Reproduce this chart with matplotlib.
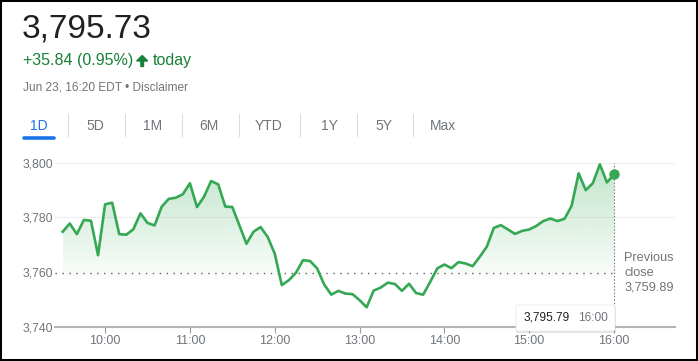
import matplotlib
matplotlib.use("Agg")
import matplotlib.pyplot as plt
import numpy as np
from matplotlib.lines import Line2D
from matplotlib.patches import FancyBboxPatch, Rectangle, FancyArrow
from matplotlib.transforms import IdentityTransform

# index level, 5 minute steps from 9:30 to 16:00
values = [
    3774.8, 3777.8, 3773.9, 3779.1, 3778.8, 3766.2, 3784.8, 3785.4, 3773.9, 3773.7,
    3775.7, 3781.5, 3778.0, 3777.1, 3783.9, 3786.8, 3787.2, 3788.5, 3792.5, 3783.8,
    3787.6, 3793.3, 3792.1, 3784.0, 3783.8, 3777.1, 3770.4, 3774.8, 3776.5, 3772.9,
    3766.8, 3755.3, 3757.1, 3759.8, 3764.4, 3764.1, 3761.4, 3755.5, 3751.8, 3753.2,
    3752.2, 3752.0, 3749.8, 3747.2, 3753.3, 3754.4, 3756.2, 3755.7, 3753.2, 3755.8,
    3752.4, 3751.8, 3756.5, 3761.4, 3762.8, 3761.5, 3763.7, 3763.2, 3762.2, 3765.6,
    3769.3, 3776.2, 3777.2, 3775.6, 3774.0, 3775.1, 3775.6, 3776.9, 3778.7, 3779.6,
    3778.7, 3779.5, 3784.2, 3796.1, 3790.0, 3792.5, 3799.4, 3792.8, 3795.7,
]
times = [9.5 + k * 5 / 60 for k in range(len(values))]

prev_close = 3759.89
last_price = "3,795.73"
change_text = "+35.84 (0.95%)"
date_text = "Jun 23, 16:20 EDT \u2022 Disclaimer"
tabs = ["1D", "5D", "1M", "6M", "YTD", "1Y", "5Y", "Max"]
tab_x = [39, 95.7, 152.7, 209.3, 268.3, 329, 384.3, 442.7]
sep_x = [67.7, 124.7, 181.7, 238.7, 299.7, 356.7, 413.3]
hour_ticks = [10, 11, 12, 13, 14, 15, 16]
hour_labels = ["10:00", "11:00", "12:00", "13:00", "14:00", "15:00", "16:00"]
y_ticks = [3740, 3760, 3780, 3800]
y_labels = ["3,740", "3,760", "3,780", "3,800"]

W, H = 698, 361
GREEN = "#34a853"
GRAY = "#70757a"
plt.rcParams["font.family"] = ["Liberation Sans", "DejaVu Sans"]

def fx(x):
    return x / W

def fy(y):
    return 1 - y / H

fig = plt.figure(figsize=(W / 100, H / 100), dpi=100)
fig.patch.set_facecolor("white")

# header
fig.text(fx(22), fy(37.3), last_price, fontsize=24, color="#202124", va="baseline")
fig.text(fx(22.7), fy(65), change_text, fontsize=11.5, color="#188038", va="baseline")
# up arrow, drawn in pixel coords (origin bottom-left)
fig.add_artist(FancyArrow(142.2, H - 66.5, 0, 11, width=2.6, head_width=11,
                          head_length=5.5, length_includes_head=True,
                          color="#188038", transform=IdentityTransform()))
fig.text(fx(152.7), fy(65), "today", fontsize=11.5, color="#188038", va="baseline")
fig.text(fx(22.7), fy(91), date_text, fontsize=8.6, color=GRAY, va="baseline")

# range tabs
for i, (lab, x) in enumerate(zip(tabs, tab_x)):
    fig.text(fx(x), fy(130), lab, fontsize=10, ha="center", va="baseline",
             color="#1a73e8" if i == 0 else GRAY)
for x in sep_x:
    fig.add_artist(Line2D([fx(x), fx(x)], [fy(114), fy(136)], color="#dadce0", lw=0.8))
fig.add_artist(Line2D([fx(24), fx(54)], [fy(137.6), fy(137.6)], color="#1a73e8",
                      lw=2.6, solid_capstyle="round"))

# chart area: 3740 at y=327 px, 3800 at y=162.7 px, 9:30 at x=62.7 px, 84.8 px per hour
ppu = (327 - 162.7) / 60
pph = 84.8
top_px, bot_px, left_px, right_px = 150, 327, 55, 675
ax = fig.add_axes([fx(left_px), fy(bot_px), (right_px - left_px) / W, (bot_px - top_px) / H])
ax.set_xlim(9.5 - (62.7 - left_px) / pph, 16 + (right_px - 614) / pph)
ax.set_ylim(3740, 3800 + (162.7 - top_px) / ppu)

for s in ["top", "right", "left"]:
    ax.spines[s].set_visible(False)
ax.spines["bottom"].set_color("#b5b5b5")
ax.spines["bottom"].set_linewidth(1.5)

for v in [3780, 3800]:
    ax.axhline(v, color="#eeeeee", lw=0.8, zorder=0)

# gradient fill under the line
base = 3756
poly = ax.fill_between(times, values, base, color="none", lw=0)
ramp = np.linspace(0, 1, 256) ** 0.9 * 0.3
img = np.zeros((256, 1, 4))
img[:, 0, 0] = 52 / 255
img[:, 0, 1] = 168 / 255
img[:, 0, 2] = 83 / 255
img[:, 0, 3] = ramp
im = ax.imshow(img, extent=[times[0], times[-1], base, 3800], origin="lower",
               aspect="auto", zorder=1, interpolation="bilinear")
im.set_clip_path(poly.get_paths()[0], transform=ax.transData)

ax.plot(times, values, color=GREEN, lw=1.9, zorder=3)
ax.plot([times[-1]], [values[-1]], "o", color=GREEN, ms=6.5, zorder=4)

ax.plot([ax.get_xlim()[0], 16], [prev_close, prev_close], color="#5f6368",
        lw=1, linestyle=(0, (1, 4)), zorder=2)
ax.plot([16, 16], [3740, 3800], color="#80868b", lw=0.8, linestyle=(0, (1.5, 1.5)), zorder=2)

ax.set_xticks(hour_ticks)
ax.set_xticklabels(hour_labels)
ax.set_yticks(y_ticks)
ax.set_yticklabels(y_labels)
ax.tick_params(axis="x", length=4, width=0.8, color="#9e9e9e", labelsize=9,
               labelcolor=GRAY, pad=2)
ax.tick_params(axis="y", length=0, labelsize=8.8, labelcolor=GRAY, pad=1.5)
ax.set_facecolor("none")

# previous close note
for txt, y in zip(["Previous", "close", "3,759.89"], [258.3, 273.3, 287.7]):
    fig.text(fx(624.3), fy(y), txt, fontsize=9.2, color=GRAY, va="center")

# tooltip
shadow = FancyBboxPatch((fx(516), fy(333)), (616 - 516) / W, (333 - 305.5) / H,
                        boxstyle="round,pad=0,rounding_size=0.004", transform=fig.transFigure,
                        facecolor="#000000", alpha=0.1, edgecolor="none", zorder=5)
box = FancyBboxPatch((fx(516), fy(331)), (615 - 516) / W, (331 - 305) / H,
                     boxstyle="round,pad=0,rounding_size=0.004", transform=fig.transFigure,
                     facecolor="white", edgecolor="#e6e6e6", lw=0.5, zorder=6)
fig.add_artist(shadow)
fig.add_artist(box)
fig.text(fx(523.5), fy(318), "3,795.79", fontsize=8.6, color="#202124", va="center", zorder=7)
fig.text(fx(578), fy(318), "16:00", fontsize=8.6, color=GRAY, va="center", zorder=7)

# frame
fig.add_artist(Rectangle((0, 0), 1, 1, transform=fig.transFigure, fill=False,
                         edgecolor="black", lw=2.9))

fig.savefig("out.png", dpi=100)
